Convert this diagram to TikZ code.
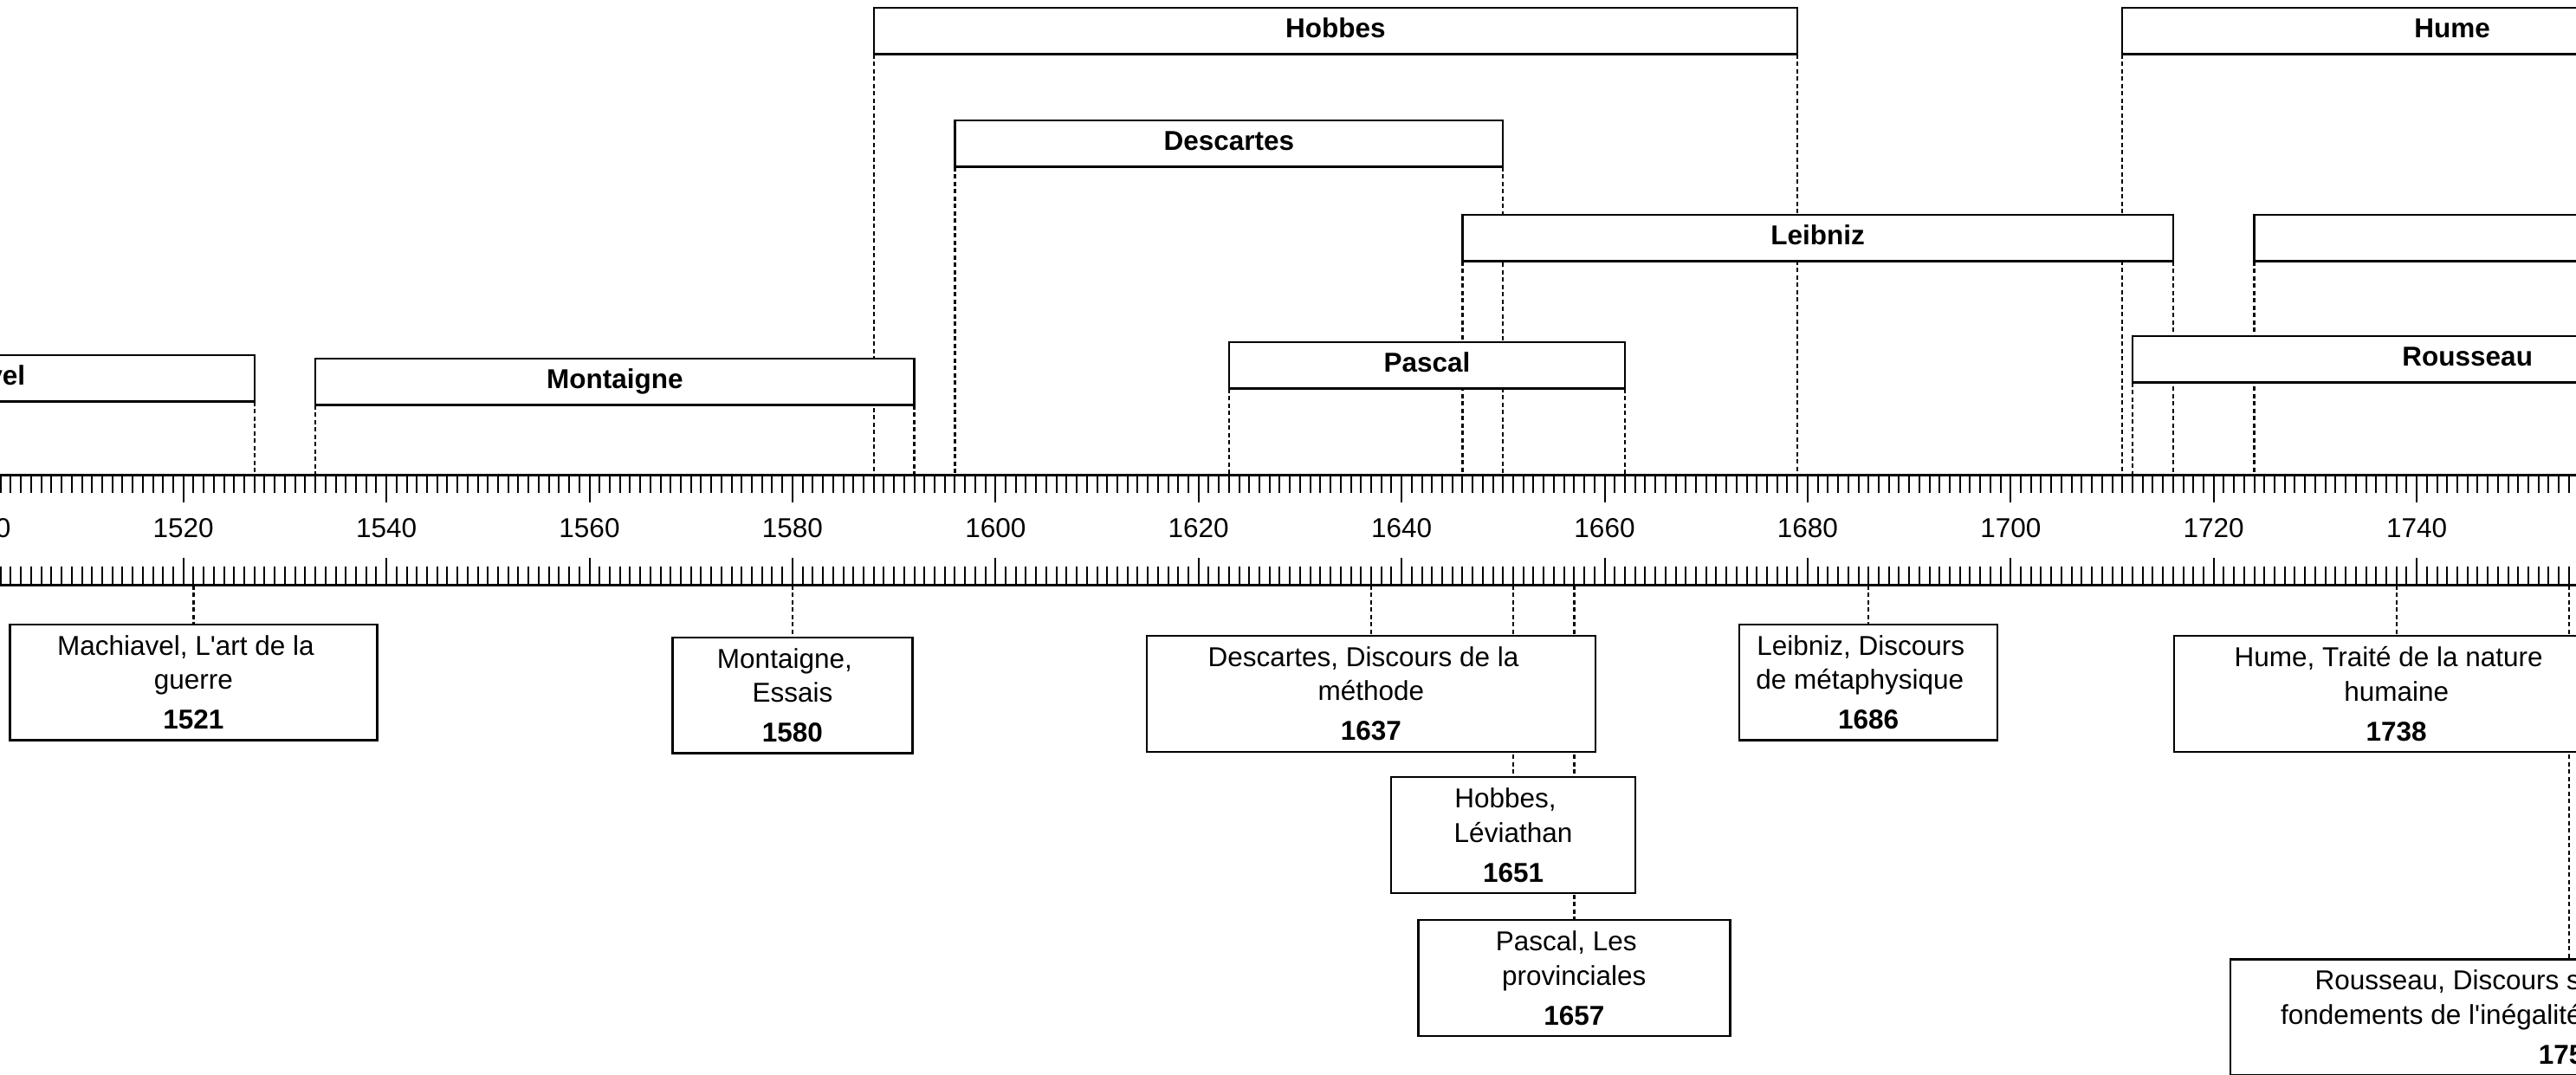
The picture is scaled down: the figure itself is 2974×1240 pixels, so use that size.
\documentclass[tikz,border=0pt]{standalone}
\usepackage{fontspec}
\setmainfont{Liberation Sans}[Ligatures=TeXOff]
\pgfdeclarelayer{back}
\pgfdeclarelayer{bg}
\pgfsetlayers{back,bg,main}
\tikzset{
  declare function={yx(\t)=1149.3+(\t-1600)*11.72;},
  lifebox/.style={draw, line width=2.3pt, fill=white, inner sep=0pt, outer sep=0pt,
    minimum height=53.5pt, text height=22.6pt, text depth=7pt,
    font=\fontsize{31.5}{39.5}\selectfont\bfseries},
  callbox/.style={draw, line width=2.3pt, fill=white, inner sep=0pt, outer sep=0pt,
    minimum height=133.4pt, align=center, font=\fontsize{31.5}{39.5}\selectfont},
  dashline/.style={line width=2.3pt, dash pattern=on 5pt off 3.5pt},
  ticka/.style={line width=2pt},
  axisline/.style={line width=2.5pt},
  yearlab/.style={anchor=base, inner sep=0pt, font=\fontsize{31.5}{39.5}\selectfont}
}
\newcommand\padr[1]{\rule{#1}{0pt}}
\newcommand\lifebox[5]{\node[lifebox, minimum width={(#3-#2)*11.72}, anchor=north west] (#1) at ({yx(#2)},#4) {#5};}
\newcommand\callout[6]{\node[callbox, minimum width=#3, anchor=north] (#1) at ({yx(#2)},#4) {#5\padr{18pt}\\#6\\[6.5pt]\textbf{#2}};}
\begin{document}
\begin{tikzpicture}[x=1pt,y=-1pt]
\useasboundingbox (0,0) rectangle (2974,1240);
\begin{pgfonlayer}{back}
\fill[white] (0,0) rectangle (2974,1240);
\end{pgfonlayer}
% axis
\coordinate (axtopL) at (0,548.3);
\coordinate (axtopR) at (2974,548.3);
\coordinate (axbotL) at (0,675.7);
\coordinate (axbotR) at (2974,675.7);
\draw[axisline] (axtopL) -- (axtopR);
\draw[axisline] (axbotL) -- (axbotR);
\foreach \t in {1502,...,1755} {
  \draw[ticka] ({yx(\t)},548.3) -- ++(0,21);
  \draw[ticka] ({yx(\t)},675.7) -- ++(0,-21.4);
}
\foreach \t in {1520,1540,...,1740} {
  \draw[ticka] ({yx(\t)},548.3) -- ++(0,31.7);
  \draw[ticka] ({yx(\t)},675.7) -- ++(0,-31.4);
}
\foreach \t in {1500,1520,...,1760} {
  \node[yearlab] (lab\t) at ({yx(\t)},620) {\t};
}
% life spans
\lifebox{mach}{1469}{1527}{410}{Machiavel}
\lifebox{mont}{1533}{1592}{414}{Montaigne}
\lifebox{hobb}{1588}{1679}{9}{Hobbes}
\lifebox{desc}{1596}{1650}{139}{Descartes}
\lifebox{pasc}{1623}{1662}{395}{Pascal}
\lifebox{leib}{1646}{1716}{248}{Leibniz}
\lifebox{hume}{1711}{1776}{9}{Hume}
\lifebox{rous}{1712}{1778}{388}{Rousseau}
\lifebox{kant}{1724}{1804}{248}{}
% works
\callout{w1521}{1521}{424}{721}{Machiavel, L'art de la}{guerre}
\callout{w1580}{1580}{277}{736}{Montaigne,}{Essais}
\callout{w1637}{1637}{518}{734.3}{Descartes, Discours de la}{méthode}
\callout{w1651}{1651}{282.5}{897.3}{Hobbes,}{Léviathan}
\callout{w1657}{1657}{360}{1062.3}{Pascal, Les}{provinciales}
\callout{w1686}{1686}{298}{721}{Leibniz, Discours}{de métaphysique\padr{20pt}}
\callout{w1738}{1738}{513.4}{734.3}{Hume, Traité de la nature}{humaine}
\node[callbox, minimum width=782, anchor=north] (w1755) at ({yx(1755)},1107.6)
  {Rousseau, Discours sur l'origine et les\padr{52pt}\\fondements de l'inégalité parmi les hommes\padr{52pt}\\[6.5pt]\textbf{1755}};
\begin{pgfonlayer}{bg}
\foreach \n in {mach,mont,hobb,desc,pasc,leib,hume,rous,kant} {
  \draw[dashline] (\n.south west) -- (\n.south west |- axtopL);
  \draw[dashline] (\n.south east) -- (\n.south east |- axtopL);
}
\foreach \n in {w1521,w1580,w1637,w1651,w1657,w1686,w1738,w1755} {
  \draw[dashline] (\n.north |- axbotL) -- (\n.north);
}
\end{pgfonlayer}
\end{tikzpicture}
\end{document}
